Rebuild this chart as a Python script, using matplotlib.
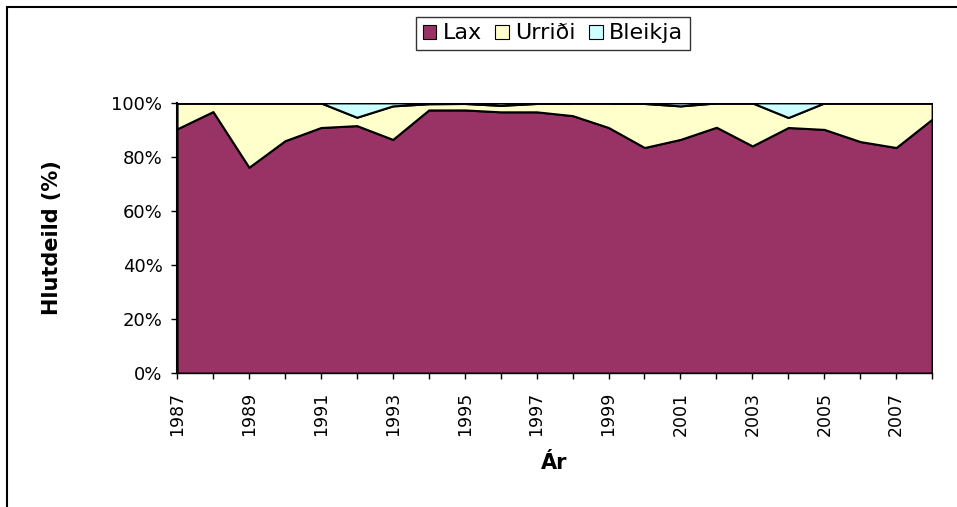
import matplotlib.pyplot as plt
from matplotlib.patches import Rectangle

ar = list(range(1987, 2009))
lax = [90.4, 96.8, 76.2, 86.0, 90.9, 91.6, 86.5, 97.4, 97.4, 96.7, 96.7,
       95.3, 90.9, 83.5, 86.5, 91.0, 84.1, 90.9, 90.2, 85.7, 83.5, 94.0]
urridi = [9.6, 3.2, 23.8, 14.0, 9.1, 3.1, 12.4, 2.3, 2.4, 2.4, 3.1,
          4.7, 9.1, 16.3, 12.4, 9.0, 15.9, 3.7, 9.8, 14.3, 16.5, 6.0]
bleikja = [0.0, 0.0, 0.0, 0.0, 0.0, 5.3, 1.1, 0.3, 0.2, 0.9, 0.2,
           0.0, 0.0, 0.2, 1.1, 0.0, 0.0, 5.4, 0.0, 0.0, 0.0, 0.0]
heiti = ["Lax", "Urriði", "Bleikja"]
litir = ["#993366", "#FFFFCC", "#CCFFFF"]

plt.rcParams["font.family"] = "DejaVu Sans"

fig = plt.figure(figsize=(9.57, 5.07), dpi=100)
ax = fig.add_axes([0.185, 0.264, 0.789, 0.533])

ax.stackplot(ar, lax, urridi, bleikja, labels=heiti, colors=litir,
             edgecolor="black", linewidth=1.5)

ax.set_xlim(1987, 2008)
ax.set_ylim(0, 100)
ax.set_xticks(ar)
ax.set_xticklabels([str(a) if (a - 1987) % 2 == 0 else "" for a in ar],
                   rotation=90)
ax.set_yticks(range(0, 101, 20))
ax.set_yticklabels([f"{v}%" for v in range(0, 101, 20)])
ax.tick_params(direction="out", length=4.5, width=1, color="black")
ax.tick_params(axis="x", pad=9, labelsize=12.5)
ax.tick_params(axis="y", pad=6, labelsize=13)
ax.spines["top"].set_visible(False)
ax.spines["right"].set_visible(False)
ax.spines["left"].set_linewidth(1.5)
ax.spines["bottom"].set_linewidth(1.0)

ax.set_xlabel("Ár", fontsize=15, fontweight="bold", va="center")
ax.xaxis.set_label_coords(0.5, -0.333)
ax.set_ylabel("Hlutdeild (%)", fontsize=15, fontweight="bold", va="center")
ax.yaxis.set_label_coords(-0.166, 0.5)

leg = fig.legend(loc="center", bbox_to_anchor=(0.578, 0.934), ncol=3,
                 fontsize=16, frameon=True, fancybox=False, edgecolor="black",
                 handlelength=0.6, handleheight=0.6, handletextpad=0.3,
                 columnspacing=0.6, borderpad=0.3)
leg.get_frame().set_linewidth(1.0)
for h in leg.legend_handles:
    h.set_linewidth(0.8)

# ramminn utan um myndina
fig.patches.append(Rectangle((7 / 957, -0.1), 1.2, 1.1 - 7 / 507,
                             transform=fig.transFigure, fill=False,
                             edgecolor="black", linewidth=1.5))

fig.savefig("out.png", dpi=100)
